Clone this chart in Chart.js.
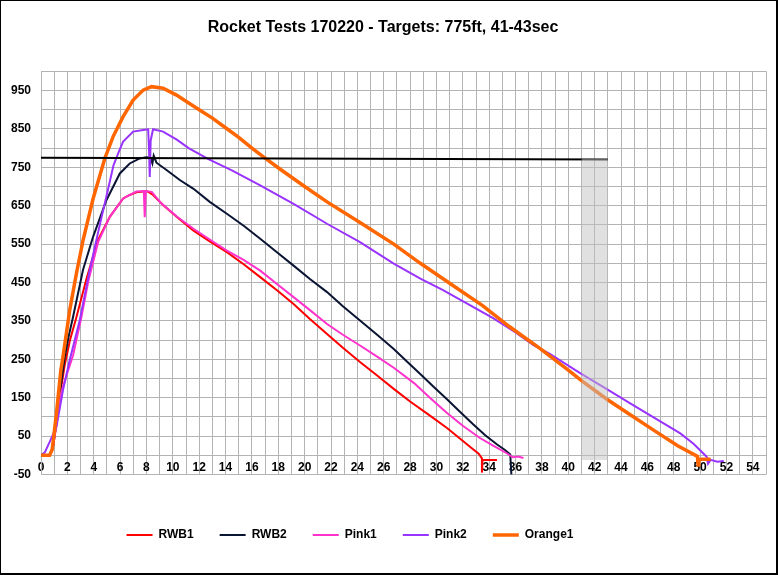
<!DOCTYPE html>
<html><head><meta charset="utf-8">
<script src="https://cdn.jsdelivr.net/npm/chart.js@4/dist/chart.umd.min.js"></script>
<style>html,body{margin:0;padding:0;background:#fff}#wrap{width:779px;height:575px;position:relative}</style>
</head><body><div id="wrap"><canvas id="c"></canvas></div>
<script>
const chartTitle = 'Rocket Tests 170220 - Targets: 775ft, 41-43sec';
const seriesNames = ['RWB1', 'RWB2', 'Pink1', 'Pink2', 'Orange1'];

const rwb1Time = [0,0.65,0.9,1.2,1.5,1.8,2.2,2.69,3.45,4.33,5.22,6.23,6.73,7.24,7.75,8.1,8.5,9.26,10.4,11.57,12.8,14.1,15.4,16.63,17.9,19.16,20.4,21.7,22.9,24.2,25.5,26.76,28,29.4,30.8,31.8,32.8,33.2,33.45,33.45,33.5,34.6];
const rwb1Alt  = [0,0,20,90,170,235,300,360,460,561,621,669,678,685,687,687,678,652,618,585,557,529,497,464,430,394,355,316,280,243,208,173,140,106,71,43,15,4,-8,-45,-12,-12];

const rwb2Time = [0,0.65,0.9,1.2,1.5,1.8,2.1,2.43,3.19,3.95,4.97,5.98,6.73,7.49,8.0,8.3,8.45,8.55,8.76,9.52,10.53,11.57,12.8,14.1,15.4,16.63,17.9,19.16,20.4,21.7,22.9,24.2,25.5,26.76,27.8,28.85,29.8,30.8,31.8,32.8,33.7,34.6,35.2,35.6,35.7];
const rwb2Alt  = [0,0,20,90,180,255,310,360,483,569,665,734,760,773,776,775,760,780,762,743,717,694,660,629,597,564,529,494,459,425,388,351,314,277,243,209,178,146,113,80,52,28,14,2,-60];

const pink1Time = [0,0.65,0.9,1.2,1.5,2.0,2.43,3.07,3.6,4.33,5.22,6.23,7.24,7.8,7.87,7.95,8.4,9.04,10.3,11.57,12.8,14.1,15.4,16.63,17.9,19.16,20.4,21.7,22.9,24.2,25.5,26.76,28.3,29.5,30.8,32,33.3,34.3,35.3,35.8,36.2,36.6];
const pink1Alt  = [0,0,20,85,160,215,260,361,455,555,621,669,687,688,620,688,686,659,622,590,562,533,508,481,446,412,378,342,314,286,257,228,188,150,110,77,45,25,6,-5,-3,-7];

const pink2Time = [0,0.3,0.66,1.17,1.67,2.18,2.94,3.7,4.46,5.0,5.5,5.9,6.23,6.99,7.75,8.13,8.2,8.25,8.32,8.5,9.26,10.3,11.2,12.7,14.48,16.63,19.16,21.7,24.2,26.76,28.78,30.5,32.4,34.3,36,37.36,38.6,40.9,42.8,44.7,46.6,48.5,49.5,50.5,50.6,50.8,51.3,51.8];
const pink2Alt  = [0,8,35,74,170,248,352,483,600,680,755,790,817,843,847,849,790,725,820,849,843,822,800,771,742,703,655,603,555,499,460,430,394,357,320,287,264,214,175,135,96,57,30,-4,-22,-12,-17,-15];

const orange1Time = [0,0.65,0.85,1.17,1.5,1.67,2.18,2.69,3.19,3.95,4.84,5.47,6.23,6.99,7.75,8.38,9.26,10.28,11,12,13,14,15,16,17,18.15,20,21.7,24.2,26.76,28.78,31,33.5,35.5,37.87,40,41.03,42.93,44.5,46.5,48.3,49.8,49.85,49.9,50.8];
const orange1Alt  = [0,0,15,108,220,257,378,474,560,668,773,830,882,925,951,960,956,938,922,900,878,853,828,800,774,745,700,660,606,550,500,448,390,336,278,222,194,146,110,65,25,-3,-25,-10,-10];

const targetTime = [0, 43];
const targetAlt  = [775, 770];
const bandTime = [41, 43];
const bandTop  = [772, 772];
const bandBottom = -12;

const xTickLabels = [0,2,4,6,8,10,12,14,16,18,20,22,24,26,28,30,32,34,36,38,40,42,44,46,48,50,52,54];
const yTickLabels = [-50,50,150,250,350,450,550,650,750,850,950];

const seriesTimes = [rwb1Time, rwb2Time, pink1Time, pink2Time, orange1Time];
const seriesAlts  = [rwb1Alt, rwb2Alt, pink1Alt, pink2Alt, orange1Alt];
const seriesColors = ['#ff0000', '#0a1433', '#ff33cc', '#9933ff', '#ff6600'];
const seriesWidths = [2, 2, 2, 2, 3.5];
const seriesOrder = [5, 4, 3, 2, 1];

function pts(t, v) { return t.map((x, i) => ({x: x, y: v[i]})); }

const FONT = "'Liberation Sans', Arial, sans-serif";
const GRID = '#b3b3b3';

const datasets = seriesNames.map((name, i) => ({
  label: name,
  data: pts(seriesTimes[i], seriesAlts[i]),
  borderColor: seriesColors[i],
  backgroundColor: seriesColors[i],
  borderWidth: seriesWidths[i],
  pointRadius: 0,
  tension: 0,
  fill: false,
  order: seriesOrder[i]
}));
datasets.push({
  label: 'Target',
  data: pts(targetTime, targetAlt),
  borderColor: '#000000',
  borderWidth: 2,
  pointRadius: 0,
  fill: false,
  order: 0.5
});
datasets.push({
  label: 'Window',
  data: pts(bandTime, bandTop),
  borderWidth: 0,
  borderColor: 'rgba(0,0,0,0)',
  backgroundColor: 'rgba(193,193,193,0.5)',
  pointRadius: 0,
  fill: {value: bandBottom},
  order: 0
});

const legendShift = {
  id: 'legendShift',
  beforeInit(chart) {
    const lg = chart.legend;
    const orig = lg.fit;
    lg.fit = function () {
      orig.call(this);
      if (this.lineWidths) this.lineWidths = this.lineWidths.map(w => w + 66);
    };
  }
};
const frame = {
  id: 'frame',
  afterDraw(chart) {
    const ctx = chart.ctx;
    ctx.save();
    ctx.strokeStyle = '#000';
    ctx.lineWidth = 2;
    ctx.strokeRect(0, 0, 777, 574);
    ctx.restore();
  }
};

new Chart(document.getElementById('c'), {
  type: 'line',
  data: {datasets: datasets},
  plugins: [legendShift, frame],
  options: {
    responsive: true,
    maintainAspectRatio: false,
    animation: false,
    devicePixelRatio: 1,
    layout: {padding: {left: 0, right: 13, top: 0, bottom: 24}},
    plugins: {
      tooltip: {enabled: false},
      title: {
        display: true,
        text: chartTitle,
        color: '#000',
        font: {family: FONT, size: 16, weight: 'bold'},
        padding: {top: 18, bottom: 34.1}
      },
      legend: {
        position: 'bottom',
        title: {display: true, text: ' ', font: {size: 10}, padding: {top: 8.25, bottom: 8.25}},
        labels: {
          usePointStyle: true,
          pointStyle: 'line',
          pointStyleWidth: 26,
          padding: 26,
          color: '#000',
          font: {family: FONT, size: 12, weight: 'bold'},
          filter: item => seriesNames.includes(item.text),
          sort: (a, b) => a.datasetIndex - b.datasetIndex
        }
      }
    },
    scales: {
      x: {
        type: 'linear',
        position: {y: 0},
        min: 0, max: 55,
        grid: {color: GRID, lineWidth: 1, drawTicks: false},
        border: {color: GRID, width: 1},
        ticks: {
          stepSize: 1, autoSkip: false, maxRotation: 0, padding: 5,
          color: '#000',
          font: {family: FONT, size: 12, weight: 'bold'},
          callback: v => xTickLabels.includes(v) ? String(v) : ''
        }
      },
      y: {
        type: 'linear',
        min: -50, max: 1000,
        afterFit: s => { s.width = 41; },
        grid: {color: GRID, lineWidth: 1, drawTicks: false},
        border: {color: GRID, width: 1},
        ticks: {
          stepSize: 50, autoSkip: false, padding: 10,
          color: '#000',
          font: {family: FONT, size: 12, weight: 'bold'},
          callback: v => yTickLabels.includes(v) ? String(v) : ''
        }
      }
    }
  }
});
</script></body></html>
